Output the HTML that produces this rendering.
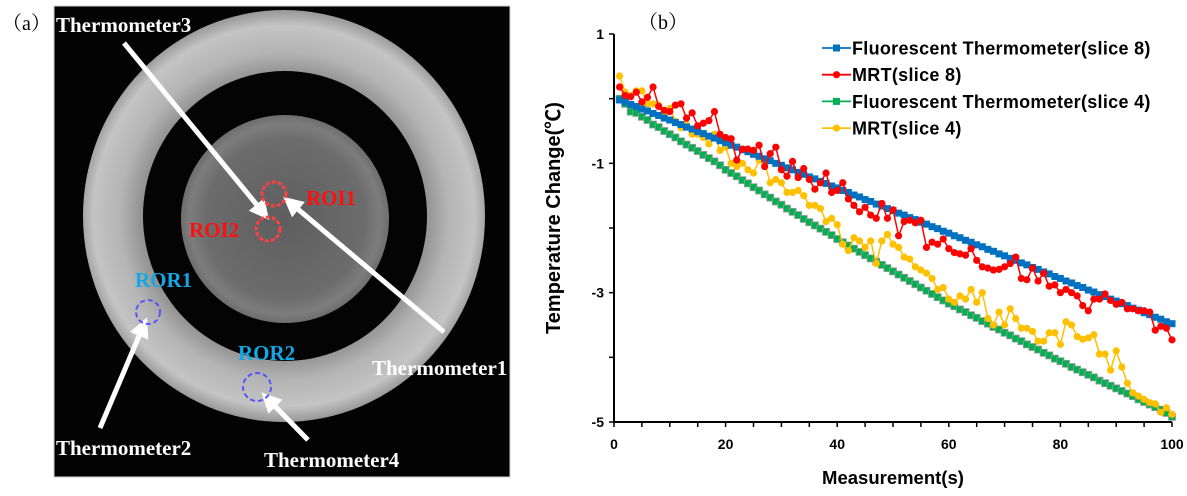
<!DOCTYPE html>
<html><head><meta charset="utf-8">
<style>
body{margin:0;background:#fff;width:1187px;height:496px;overflow:hidden;font-family:"Liberation Sans",sans-serif;}
svg{position:absolute;left:0;top:0;}
</style></head>
<body>
<svg id="fig" width="1187" height="496" xmlns="http://www.w3.org/2000/svg">
<defs>
<radialGradient id="ringG" cx="284" cy="216" r="205" gradientUnits="userSpaceOnUse">
<stop offset="0.68" stop-color="#8e8e8e"/><stop offset="0.8" stop-color="#b4b4b4"/><stop offset="0.93" stop-color="#c4c4c4"/><stop offset="1" stop-color="#9a9a9a"/>
</radialGradient>
<radialGradient id="diskG" cx="285" cy="219" r="106" gradientUnits="userSpaceOnUse">
<stop offset="0" stop-color="#5e5e5e"/><stop offset="0.75" stop-color="#6c6c6c"/><stop offset="0.9" stop-color="#7d7d7d"/><stop offset="1" stop-color="#6a6a6a"/>
</radialGradient>
<marker id="ah" markerWidth="4" markerHeight="4" refX="3" refY="2" orient="auto" markerUnits="strokeWidth"><path d="M0,0 L4,2 L0,4 z" fill="#fff"/></marker>
</defs>
<g>
<text x="2" y="30" font-family="'Liberation Serif','Noto Serif CJK SC',serif" font-size="20">（a）</text>
<rect x="54" y="6" width="456" height="471" fill="#030303" stroke="#cfcfcf" stroke-width="1"/>
<ellipse cx="284" cy="216" rx="201" ry="206" fill="url(#ringG)"/>
<ellipse cx="285" cy="216" rx="142" ry="145" fill="#040404"/>
<circle cx="285" cy="219" r="104" fill="url(#diskG)"/>
<line x1="124" y1="43" x2="266" y2="216" stroke="#fff" stroke-width="5" marker-end="url(#ah)"/>
<line x1="444" y1="332" x2="287" y2="200" stroke="#fff" stroke-width="5" marker-end="url(#ah)"/>
<line x1="100" y1="428" x2="145" y2="322" stroke="#fff" stroke-width="5" marker-end="url(#ah)"/>
<line x1="308" y1="440" x2="265" y2="396" stroke="#fff" stroke-width="5" marker-end="url(#ah)"/>
<circle cx="274" cy="194" r="12" fill="none" stroke="#ff4040" stroke-width="3" stroke-dasharray="4 2"/>
<circle cx="268" cy="229" r="12" fill="none" stroke="#ff4040" stroke-width="3" stroke-dasharray="4 2"/>
<circle cx="148" cy="312" r="12" fill="none" stroke="#5555ff" stroke-width="2" stroke-dasharray="5 3"/>
<circle cx="257" cy="387" r="14" fill="none" stroke="#5555ff" stroke-width="2" stroke-dasharray="5 3"/>
<g font-family="'Liberation Serif',serif" font-weight="bold" font-size="21">
<text x="56" y="32" fill="#fff">Thermometer3</text>
<text x="372" y="375" fill="#fff">Thermometer1</text>
<text x="56" y="455" fill="#fff">Thermometer2</text>
<text x="264" y="467" fill="#fff">Thermometer4</text>
<text x="306" y="205" fill="#ff1010">ROI1</text>
<text x="189" y="237" fill="#ff1010">ROI2</text>
<text x="135" y="287" fill="#10a8e8">ROR1</text>
<text x="238" y="360" fill="#10a8e8">ROR2</text>
</g>
</g>
<g id="chart"></g>
</svg>
<script>
const xTicksLabels=[0,20,40,60,80,100];
const yTickLabels=[1,-1,-3,-5];
const ftSlice8=[-0.02,-0.05,-0.09,-0.12,-0.16,-0.19,-0.23,-0.26,-0.30,-0.33,-0.37,-0.40,-0.44,-0.47,-0.51,-0.54,-0.58,-0.61,-0.65,-0.68,-0.72,-0.75,-0.79,-0.82,-0.86,-0.89,-0.93,-0.96,-1.00,-1.03,-1.07,-1.10,-1.14,-1.17,-1.21,-1.24,-1.28,-1.31,-1.35,-1.38,-1.42,-1.45,-1.49,-1.52,-1.56,-1.59,-1.63,-1.66,-1.70,-1.73,-1.77,-1.80,-1.84,-1.87,-1.91,-1.94,-1.98,-2.01,-2.05,-2.08,-2.12,-2.15,-2.19,-2.22,-2.26,-2.29,-2.33,-2.36,-2.40,-2.43,-2.47,-2.50,-2.54,-2.57,-2.61,-2.64,-2.68,-2.71,-2.75,-2.78,-2.82,-2.85,-2.89,-2.92,-2.96,-2.99,-3.03,-3.06,-3.10,-3.13,-3.17,-3.20,-3.24,-3.27,-3.31,-3.34,-3.38,-3.41,-3.45,-3.48];
const mrtSlice8=[0.18,0.05,0.03,0.10,-0.05,0.02,0.18,-0.12,-0.18,-0.20,-0.10,-0.08,-0.30,-0.22,-0.42,-0.38,-0.34,-0.20,-0.55,-0.60,-0.62,-0.95,-0.78,-0.78,-0.80,-0.72,-1.05,-0.85,-0.75,-1.10,-1.20,-0.97,-1.22,-1.08,-1.25,-1.40,-1.30,-1.15,-1.45,-1.42,-1.30,-1.55,-1.65,-1.75,-1.68,-1.80,-1.85,-1.62,-1.85,-1.72,-2.12,-1.90,-1.88,-1.92,-1.88,-2.30,-2.22,-2.25,-2.17,-2.32,-2.38,-2.40,-2.42,-2.32,-2.50,-2.60,-2.62,-2.65,-2.64,-2.60,-2.55,-2.45,-2.78,-2.80,-2.62,-2.82,-2.70,-2.90,-2.88,-3.00,-2.95,-3.00,-3.05,-3.20,-3.28,-3.10,-3.10,-3.02,-3.12,-3.18,-3.15,-3.25,-3.25,-3.28,-3.28,-3.30,-3.58,-3.52,-3.55,-3.73];
const ftSlice4=[0.00,-0.08,-0.20,-0.22,-0.28,-0.33,-0.40,-0.44,-0.50,-0.55,-0.60,-0.66,-0.71,-0.76,-0.81,-0.87,-0.92,-0.97,-1.03,-1.10,-1.15,-1.20,-1.26,-1.31,-1.37,-1.42,-1.48,-1.53,-1.59,-1.64,-1.70,-1.75,-1.80,-1.86,-1.91,-1.96,-2.01,-2.06,-2.11,-2.17,-2.22,-2.27,-2.32,-2.37,-2.42,-2.47,-2.52,-2.57,-2.62,-2.67,-2.72,-2.77,-2.82,-2.87,-2.92,-2.97,-3.02,-3.07,-3.12,-3.17,-3.21,-3.26,-3.30,-3.35,-3.39,-3.44,-3.48,-3.53,-3.57,-3.62,-3.66,-3.71,-3.75,-3.80,-3.84,-3.88,-3.93,-3.97,-4.02,-4.06,-4.10,-4.15,-4.19,-4.23,-4.27,-4.31,-4.36,-4.40,-4.44,-4.48,-4.52,-4.56,-4.60,-4.65,-4.69,-4.73,-4.77,-4.81,-4.86,-4.92];
const mrtSlice4=[0.35,0.10,0.05,0.12,0.12,-0.08,-0.08,-0.10,-0.28,-0.15,-0.35,-0.45,-0.40,-0.55,-0.55,-0.60,-0.70,-0.55,-0.80,-0.75,-1.00,-1.05,-1.00,-1.10,-1.15,-0.95,-1.00,-1.30,-1.25,-1.30,-1.45,-1.45,-1.42,-1.50,-1.65,-1.65,-1.70,-1.90,-1.85,-1.95,-2.25,-2.35,-2.15,-2.20,-2.30,-2.20,-2.55,-2.20,-2.10,-2.25,-2.30,-2.45,-2.48,-2.60,-2.65,-2.70,-2.78,-2.95,-2.92,-3.10,-3.15,-3.05,-3.10,-2.95,-3.15,-3.00,-3.40,-3.50,-3.30,-3.50,-3.25,-3.40,-3.55,-3.55,-3.60,-3.75,-3.75,-3.62,-3.62,-3.80,-3.45,-3.50,-3.68,-3.72,-3.70,-3.65,-3.95,-3.95,-4.20,-3.90,-4.15,-4.40,-4.55,-4.60,-4.65,-4.70,-4.72,-4.85,-4.78,-4.88];
const seriesNames=["Fluorescent Thermometer(slice 8)","MRT(slice 8)","Fluorescent Thermometer(slice 4)","MRT(slice 4)"];

const NS="http://www.w3.org/2000/svg";
const g=document.getElementById('chart');
const X0=614,X1=1172,Y0=34,Y1=422;
const xs=v=>X0+(v/100)*(X1-X0);
const ys=v=>Y0+(1-v)/6*(Y1-Y0);
function mk(tag,attrs,parent){const e=document.createElementNS(NS,tag);for(const k in attrs)e.setAttribute(k,attrs[k]);(parent||g).appendChild(e);return e;}

let t=mk('text',{x:638,y:29,'font-family':"'Liberation Serif','Noto Serif CJK SC',serif",'font-size':20});
t.textContent='（b）';



let ax=mk('path',{d:`M${X0},${Y0} V${Y1} H${X1}`,stroke:'#000','stroke-width':2,fill:'none'});


for(let v=1;v>=-5;v--){
  let tk=mk('line',{x1:X0-5,x2:X0,y1:ys(v),y2:ys(v),stroke:'#000','stroke-width':1.5});
  
  
}
yTickLabels.forEach(v=>{
  let l=mk('text',{x:X0-10,y:ys(v)+5,'text-anchor':'end','font-size':14,'font-weight':'bold'});
  l.textContent=v;
  
  
});
for(let v=0;v<=100;v+=5){
  let tk=mk('line',{x1:xs(v),x2:xs(v),y1:Y1,y2:Y1+5,stroke:'#000','stroke-width':1.5});
  
  
}
xTicksLabels.forEach(v=>{
  let l=mk('text',{x:xs(v),y:Y1+27,'text-anchor':'middle','font-size':14,'font-weight':'bold'});
  l.textContent=v;
  
  
});
let xt=mk('text',{x:893,y:484,'text-anchor':'middle','font-size':18.5,'font-weight':'bold'});
xt.textContent='Measurement(s)';


let yt=mk('text',{x:0,y:0,'text-anchor':'middle','font-size':20,'font-weight':'bold',transform:'translate(560,218) rotate(-90)','font-family':"'Liberation Sans','Noto Sans CJK SC',sans-serif"});
yt.textContent='Temperature Change(℃)';



const cfg=[[ftSlice8,'#0070C0','sq','series-ft-slice8'],[mrtSlice8,'#FF0000','ci','series-mrt-slice8'],[ftSlice4,'#00B050','sq','series-ft-slice4'],[mrtSlice4,'#FFC000','ci','series-mrt-slice4']];
const order=[2,3,0,1];
order.forEach(i=>{
  const [data,col,m,name]=cfg[i];
  const sg=mk('g',{});
  
  
  const pts=data.map((v,k)=>xs(k+1).toFixed(1)+','+ys(v).toFixed(1)).join(' ');
  mk('polyline',{points:pts,fill:'none',stroke:col,'stroke-width':1.5},sg);
  data.forEach((v,k)=>{
    let p;
    if(m==='sq') p=mk('rect',{x:xs(k+1)-3.5,y:ys(v)-3.5,width:7,height:7,fill:col,stroke:i===2?'#9a9a9a':'none','stroke-width':0.8},sg);
    else p=mk('circle',{cx:xs(k+1),cy:ys(v),r:3.6,fill:col},sg);
    
    
  });
});
const lg=mk('g',{});


cfg.forEach((c,i)=>{
  const y=48+i*26.7;
  const e=mk('g',{},lg);
  
  
  mk('line',{x1:822,x2:851,y1:y,y2:y,stroke:c[1],'stroke-width':1.8},e);
  if(c[2]==='sq') mk('rect',{x:833,y:y-3.5,width:7,height:7,fill:c[1]},e);
  else mk('circle',{cx:836.5,cy:y,r:3.6,fill:c[1]},e);
  const tx=mk('text',{x:852,y:y+6.5,'font-size':18,'font-weight':'bold','letter-spacing':0.3},e);
  tx.textContent=seriesNames[i];
});
</script>
</body></html>
